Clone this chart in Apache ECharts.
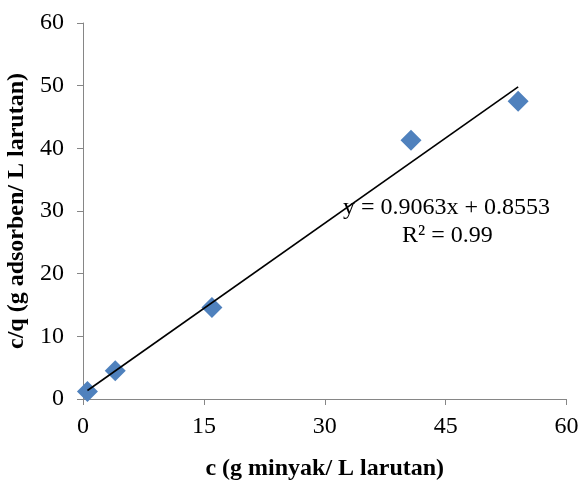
<!DOCTYPE html>
<html>
<head>
<meta charset="utf-8">
<script src="https://cdn.jsdelivr.net/npm/echarts@6/dist/echarts.min.js"></script>
<style>html,body{margin:0;padding:0;background:#fff}#c{width:582px;height:482px}</style>
</head>
<body>
<div id="c"></div>
<script>
const xValues = [0.55, 4.0, 16.0, 40.7, 54.0];
const yValues = [1.2, 4.5, 14.6, 41.3, 47.5];
const slope = 0.9063;
const intercept = 0.8553;
const xTicks = [0, 15, 30, 45, 60];
const yTicks = [0, 10, 20, 30, 40, 50, 60];
const xTitle = 'c (g minyak/ L larutan)';
const yTitle = 'c/q (g adsorben/ L larutan)';
const eqText = 'y = 0.9063x + 0.8553';
const r2Text = 'R² = 0.99';

const pts = xValues.map((x, i) => [x, yValues[i]]);
const xMin = Math.min(...xValues), xMax = Math.max(...xValues);
const trend = [[xMin, slope * xMin + intercept], [xMax, slope * xMax + intercept]];

const font = '"Liberation Serif", "Times New Roman", serif';
const chart = echarts.init(document.getElementById('c'));
chart.setOption({
  animation: false,
  backgroundColor: '#fff',
  grid: { left: 83, right: 15.5, top: 23, bottom: 83, containLabel: false, outerBoundsMode: 'none' },
  xAxis: {
    type: 'value', min: xTicks[0], max: xTicks[xTicks.length - 1], interval: 15,
    name: xTitle, nameLocation: 'middle', nameGap: 58,
    nameTextStyle: { fontFamily: font, fontSize: 24, fontWeight: 'bold', color: '#000' },
    axisLine: { show: true, lineStyle: { color: '#868686', width: 1 } },
    axisTick: { show: true, length: 6, lineStyle: { color: '#868686' } },
    axisLabel: { fontFamily: font, fontSize: 24, color: '#000', margin: 16 },
    splitLine: { show: false }
  },
  yAxis: {
    type: 'value', min: yTicks[0], max: yTicks[yTicks.length - 1], interval: 10,
    name: yTitle, nameLocation: 'middle', nameGap: 46, nameRotate: 90,
    nameTextStyle: { fontFamily: font, fontSize: 24, fontWeight: 'bold', color: '#000' },
    axisLine: { show: true, lineStyle: { color: '#868686', width: 1 } },
    axisTick: { show: true, length: 6, lineStyle: { color: '#868686' } },
    axisLabel: { fontFamily: font, fontSize: 24, color: '#000', margin: 19 },
    splitLine: { show: false }
  },
  series: [
    {
      type: 'line', data: trend, symbol: 'none', silent: true,
      lineStyle: { color: '#000', width: 1.6 }, z: 3
    },
    {
      type: 'scatter', data: pts, symbol: 'diamond', symbolSize: 21,
      itemStyle: { color: '#4F81BD', opacity: 1 }, z: 2
    }
  ],
  graphic: [
    { type: 'text', left: 343, top: 196, style: { text: eqText, font: '24px ' + font, fill: '#000' } },
    { type: 'text', left: 402, top: 224, style: { text: r2Text, font: '24px ' + font, fill: '#000' } }
  ]
});
</script>
</body>
</html>
